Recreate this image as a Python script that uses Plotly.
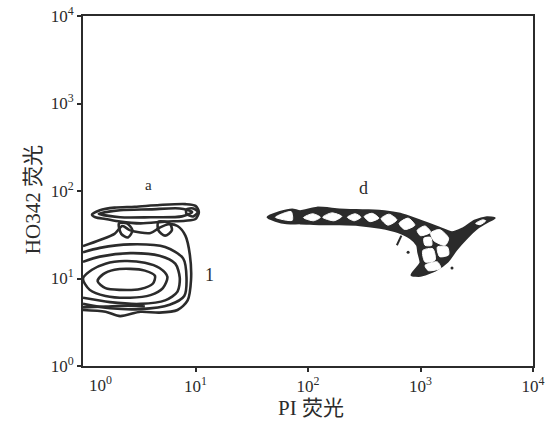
import numpy as np
import plotly.graph_objects as go

# ---- data (log10 units: PI fluorescence decade, HO342 fluorescence decade) ----
# population "1" (main, low PI) - nested contours
c1_x = [0.13, 0.18, 0.28, 0.42, 0.55, 0.64, 0.62, 0.51, 0.33, 0.20, 0.13]
c1_y = [0.97, 1.05, 1.10, 1.11, 1.09, 1.03, 0.94, 0.88, 0.87, 0.89, 0.97]
c2_x = [0.00, 0.08, 0.20, 0.37, 0.55, 0.68, 0.75, 0.71, 0.60, 0.42, 0.20, 0.06, 0.00]
c2_y = [1.00, 1.10, 1.17, 1.20, 1.18, 1.12, 1.02, 0.89, 0.81, 0.78, 0.80, 0.87, 1.00]
c3_x = [0.00, 0.15, 0.42, 0.68, 0.82, 0.86, 0.84, 0.73, 0.51, 0.24, 0.00]
c3_y = [1.19, 1.25, 1.29, 1.26, 1.17, 1.01, 0.85, 0.75, 0.71, 0.73, 0.78]
c4_x = [0.00, 0.15, 0.42, 0.73, 0.89, 0.92, 0.90, 0.77, 0.51, 0.24, 0.00]
c4_y = [1.30, 1.35, 1.39, 1.36, 1.23, 1.01, 0.80, 0.70, 0.65, 0.66, 0.71]
c5_x = [0.00, 0.15, 0.28, 0.35, 0.42, 0.60, 0.68, 0.76, 0.84, 0.91, 0.95, 0.96, 0.93, 0.84, 0.68, 0.51, 0.33, 0.20, 0.00]
c5_y = [1.37, 1.44, 1.51, 1.60, 1.55, 1.52, 1.58, 1.62, 1.60, 1.49, 1.27, 0.98, 0.75, 0.64, 0.61, 0.62, 0.57, 0.62, 0.64]
# extra flat contour line along the lower edge near the axis
b1_x = [0.00, 0.20, 0.40, 0.55]
b1_y = [0.67, 0.68, 0.69, 0.68]
# connectors between "1" and cap "a"
k1_x = [0.32, 0.39, 0.44, 0.40, 0.34, 0.32]
k1_y = [1.63, 1.63, 1.55, 1.47, 1.51, 1.63]
k2_x = [0.67, 0.77, 0.79, 0.73, 0.67, 0.67]
k2_y = [1.65, 1.63, 1.55, 1.49, 1.55, 1.65]
# population "a" (cap)
a1_x = [0.08, 0.15, 0.28, 0.46, 0.68, 0.91, 1.00, 1.03, 1.00, 0.91, 0.73, 0.51, 0.33, 0.20, 0.11, 0.08]
a1_y = [1.73, 1.78, 1.81, 1.82, 1.84, 1.85, 1.83, 1.76, 1.68, 1.66, 1.65, 1.63, 1.65, 1.68, 1.70, 1.73]
a2_x = [0.14, 0.33, 0.60, 0.86, 0.97, 0.88, 0.60, 0.33, 0.14]
a2_y = [1.74, 1.78, 1.79, 1.80, 1.76, 1.71, 1.70, 1.70, 1.74]
a3_x = [0.92, 0.98, 1.02, 0.98, 0.92, 0.92]
a3_y = [1.79, 1.80, 1.76, 1.71, 1.74, 1.79]

# population "d" (high PI) - outer envelope
d_x = [1.64, 1.75, 1.86, 1.93, 2.08, 2.28, 2.51, 2.68, 2.82, 3.00, 3.15, 3.28, 3.37, 3.48, 3.59, 3.66,
       3.60, 3.51, 3.41, 3.32, 3.24, 3.13, 3.00, 2.92, 2.96, 3.00, 2.98, 2.97, 2.91, 2.80, 2.64, 2.46,
       2.28, 2.11, 1.93, 1.81, 1.71, 1.64]
d_y = [1.70, 1.76, 1.79, 1.77, 1.81, 1.79, 1.78, 1.77, 1.74, 1.66, 1.59, 1.53, 1.57, 1.66, 1.70, 1.69,
       1.65, 1.58, 1.46, 1.33, 1.19, 1.09, 1.03, 1.04, 1.11, 1.18, 1.30, 1.38, 1.46, 1.53, 1.58, 1.61,
       1.62, 1.62, 1.63, 1.63, 1.66, 1.70]
# open cells inside "d"
d_holes = [
    ([1.71, 1.85, 1.86], [1.70, 1.765, 1.665]),
    ([1.96, 2.04, 2.11, 2.05], [1.695, 1.74, 1.70, 1.66]),
    ([2.13, 2.21, 2.30, 2.23], [1.70, 1.75, 1.71, 1.66]),
    ([2.35, 2.42, 2.47, 2.41], [1.70, 1.74, 1.70, 1.66]),
    ([2.50, 2.57, 2.63, 2.55], [1.71, 1.745, 1.69, 1.65]),
    ([2.65, 2.72, 2.79, 2.71], [1.685, 1.735, 1.67, 1.61]),
    ([2.81, 2.89, 2.95, 2.86], [1.63, 1.69, 1.61, 1.56]),
    ([2.97, 3.04, 3.09, 3.00], [1.55, 1.60, 1.53, 1.49]),
    ([3.09, 3.17, 3.25, 3.22, 3.12], [1.52, 1.56, 1.46, 1.38, 1.43]),
    ([3.15, 3.24, 3.25, 3.17], [1.36, 1.36, 1.27, 1.25]),
    ([3.02, 3.11, 3.13, 3.04], [1.32, 1.34, 1.21, 1.19]),
    ([3.04, 3.15, 3.18, 3.07], [1.15, 1.19, 1.12, 1.09]),
    ([3.03, 3.09, 3.10, 3.04], [1.46, 1.47, 1.38, 1.38]),
    ([3.49, 3.55, 3.58, 3.53], [1.63, 1.67, 1.66, 1.615]),
]
stray_x = [2.79, 2.83]
stray_y = [1.38, 1.49]
dots_x = [2.89, 3.28]
dots_y = [1.30, 1.12]

x_ticks = [1, 2, 3, 4]
y_ticks = [0, 1, 2, 3, 4]
labels = [("a", 0.58, 2.07, 15), ("d", 2.49, 2.03, 18), ("1", 1.12, 1.04, 18)]

INK = "#2b2b2b"
SERIF = "Liberation Serif, Noto Sans CJK SC"


def v(arr):
    return [10 ** a for a in arr]


fig = go.Figure()
for xs, ys in [(c1_x, c1_y), (c2_x, c2_y), (c3_x, c3_y), (c4_x, c4_y), (c5_x, c5_y),
               (b1_x, b1_y), (k1_x, k1_y), (k2_x, k2_y), (a1_x, a1_y), (a2_x, a2_y),
               (a3_x, a3_y)]:
    fig.add_trace(go.Scatter(x=v(xs), y=v(ys), mode="lines",
                             line=dict(color=INK, width=2.6, shape="spline", smoothing=0.8),
                             hoverinfo="skip"))

fig.add_trace(go.Scatter(x=v(d_x), y=v(d_y), mode="lines", fill="toself", fillcolor=INK,
                         line=dict(color=INK, width=2, shape="spline", smoothing=0.6),
                         hoverinfo="skip"))
for hx, hy in d_holes:
    fig.add_trace(go.Scatter(x=v(hx + hx[:1]), y=v(hy + hy[:1]), mode="lines", fill="toself",
                             fillcolor="white", line=dict(color="white", width=1,
                                                          shape="spline", smoothing=0.7),
                             hoverinfo="skip"))
fig.add_trace(go.Scatter(x=v(stray_x), y=v(stray_y), mode="lines",
                         line=dict(color=INK, width=2), hoverinfo="skip"))
fig.add_trace(go.Scatter(x=v(dots_x), y=v(dots_y), mode="markers",
                         marker=dict(color=INK, size=3), hoverinfo="skip"))

annotations = []
for txt, lx, ly, sz in labels:
    annotations.append(dict(x=lx, y=ly, xref="x", yref="y", text=txt, showarrow=False,
                            font=dict(family=SERIF, size=sz, color=INK)))
annotations.append(dict(x=0.038, y=-0.015, xref="paper", yref="paper", text="10<sup>0</sup>",
                        showarrow=False, xanchor="center", yanchor="top",
                        font=dict(family=SERIF, size=17, color=INK)))
annotations.append(dict(x=0.507, y=-0.12, xref="paper", yref="paper", text="PI 荧光",
                        showarrow=False, xanchor="center", yanchor="middle",
                        font=dict(family=SERIF, size=21, color=INK)))
annotations.append(dict(x=-0.111, y=0.474, xref="paper", yref="paper", text="HO342 荧光",
                        textangle=-90, showarrow=False, xanchor="center", yanchor="middle",
                        font=dict(family=SERIF, size=21, color=INK)))

axis_common = dict(type="log", range=[0, 4], showgrid=False, zeroline=False, showline=True,
                   mirror=True, linecolor=INK, linewidth=1.8, ticks="outside", ticklen=4,
                   tickcolor=INK, tickwidth=1.5, automargin=False,
                   tickfont=dict(family=SERIF, size=17, color=INK))

fig.update_layout(
    width=547, height=422,
    margin=dict(l=83, r=14, t=16, b=56),
    paper_bgcolor="white", plot_bgcolor="white",
    showlegend=False,
    xaxis=dict(axis_common, tickvals=[10 ** t for t in x_ticks],
               ticktext=["10<sup>%d</sup>" % t for t in x_ticks]),
    yaxis=dict(axis_common, tickvals=[10 ** t for t in y_ticks],
               ticktext=["10<sup>%d</sup>" % t for t in y_ticks]),
    annotations=annotations,
)
fig.write_html("out.html", config={"displayModeBar": False},
               post_script="document.body.style.margin='0';document.body.style.overflow='hidden';")
